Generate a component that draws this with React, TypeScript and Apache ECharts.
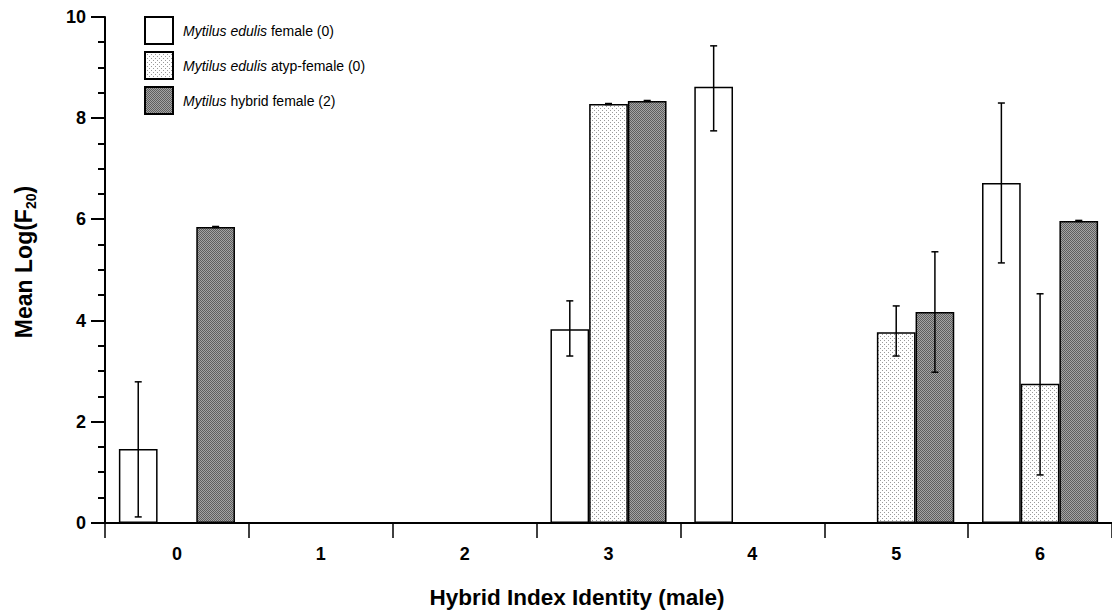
import React, { useEffect, useRef } from "react";
import * as echarts from "echarts";

const categories = ["0", "1", "2", "3", "4", "5", "6"];
const seriesNames = [
  "Mytilus edulis female (0)",
  "Mytilus edulis atyp-female (0)",
  "Mytilus hybrid female (2)",
];
const whiteValues = [1.46, null, null, 3.83, 8.62, null, 6.72];
const dottedValues = [null, null, null, 8.28, null, 3.77, 2.75];
const grayValues = [5.85, null, null, 8.34, null, 4.17, 5.97];
// [categoryIndex, low, high]
const whiteErrors = [
  [0, 0.12, 2.79],
  [3, 3.3, 4.39],
  [4, 7.75, 9.43],
  [6, 5.14, 8.3],
];
const dottedErrors = [
  [3, 8.27, 8.29],
  [5, 3.3, 4.29],
  [6, 0.95, 4.53],
];
const grayErrors = [
  [0, 5.84, 5.86],
  [3, 8.33, 8.35],
  [5, 2.98, 5.36],
  [6, 5.96, 5.98],
];
const yTicks = { min: 0, max: 10, interval: 2, minorStep: 0.5 };

function makePattern(kind: string) {
  const c = document.createElement("canvas");
  c.width = 4;
  c.height = 4;
  const ctx = c.getContext("2d")!;
  if (kind === "dot") {
    ctx.fillStyle = "#ffffff";
    ctx.fillRect(0, 0, 4, 4);
    ctx.fillStyle = "#9a9a9a";
    ctx.fillRect(0, 0, 1, 1);
    ctx.fillRect(2, 2, 1, 1);
  } else {
    for (let i = 0; i < 4; i++) {
      for (let j = 0; j < 4; j++) {
        ctx.fillStyle = (i + j) % 2 === 0 ? "#5e5e5e" : "#a4a4a4";
        ctx.fillRect(i, j, 1, 1);
      }
    }
  }
  return { image: c.toDataURL(), repeat: "repeat", imageWidth: 4, imageHeight: 4 } as any;
}

const CAT_GAP = 0.193;
const GRID_LEFT = 105;

function errorSeries(data: number[][], slot: number) {
  return {
    type: "custom",
    z: 10,
    silent: true,
    encode: { x: 0, y: [1, 2] },
    data,
    renderItem: (params: any, api: any) => {
      const band = api.size([1, 0])[0];
      const bw = (band * (1 - CAT_GAP)) / 3;
      const off = (slot - 1) * bw;
      const lo = api.coord([api.value(0), api.value(1)]);
      const hi = api.coord([api.value(0), api.value(2)]);
      const x = lo[0] + off;
      const cap = 3.5;
      const style = { stroke: "#000", lineWidth: 1.5 };
      return {
        type: "group",
        children: [
          { type: "line", shape: { x1: x, y1: lo[1], x2: x, y2: hi[1] }, style },
          { type: "line", shape: { x1: x - cap, y1: lo[1], x2: x + cap, y2: lo[1] }, style },
          { type: "line", shape: { x1: x - cap, y1: hi[1], x2: x + cap, y2: hi[1] }, style },
        ],
      };
    },
  };
}

export default function App() {
  const ref = useRef<HTMLDivElement>(null);
  useEffect(() => {
    const chart = echarts.init(ref.current!, null, { renderer: "svg" });
    const dotFill = makePattern("dot");
    const grayFill = makePattern("gray");
    const font = "'Liberation Sans', Arial, sans-serif";
    const barCommon = {
      type: "bar",
      barGap: "0%",
      barCategoryGap: (CAT_GAP * 100).toFixed(1) + "%",
    };
    const option: any = {
      animation: false,
      backgroundColor: "#ffffff",
      grid: { left: GRID_LEFT, top: 17, width: 1013, height: 506 },
      legend: {
        orient: "vertical",
        left: 144,
        top: 16,
        padding: 0,
        itemWidth: 28,
        itemHeight: 27,
        itemGap: 6,
        icon: "rect",
        data: seriesNames,
        formatter: (name: string) => {
          if (name.startsWith("Mytilus edulis")) {
            return "{i|Mytilus edulis}" + name.slice("Mytilus edulis".length);
          }
          return "{i|Mytilus}" + name.slice("Mytilus".length);
        },
        textStyle: {
          fontFamily: font,
          fontSize: 14,
          color: "#000",
          padding: [0, 0, 0, 5],
          rich: {
            i: { fontStyle: "italic", fontFamily: font, fontSize: 14, color: "#000" },
          },
        },
      },
      xAxis: {
        type: "category",
        data: categories,
        axisLine: { show: true, lineStyle: { color: "#000", width: 2 } },
        axisTick: {
          show: true,
          inside: false,
          alignWithLabel: false,
          interval: 0,
          length: 15,
          lineStyle: { color: "#000", width: 1.5, opacity: 1 },
        },
        axisLabel: {
          margin: 22,
          fontFamily: font,
          fontSize: 18,
          fontWeight: "bold",
          color: "#000",
        },
        splitLine: { show: false },
      },
      yAxis: {
        type: "value",
        min: yTicks.min,
        max: yTicks.max,
        interval: yTicks.interval,
        axisLine: { show: true, onZero: false, lineStyle: { color: "#000", width: 2 } },
        axisTick: { show: false },
        minorTick: { show: false },
        axisLabel: {
          margin: 19,
          fontFamily: font,
          fontSize: 18,
          fontWeight: "bold",
          color: "#000",
        },
        splitLine: { show: false },
      },
      series: [
        {
          ...barCommon,
          name: seriesNames[0],
          data: whiteValues,
          itemStyle: { color: "#ffffff", borderColor: "#000", borderWidth: 1.5 },
        },
        {
          ...barCommon,
          name: seriesNames[1],
          data: dottedValues,
          itemStyle: { color: dotFill, borderColor: "#000", borderWidth: 1.5 },
        },
        {
          ...barCommon,
          name: seriesNames[2],
          data: grayValues,
          itemStyle: { color: grayFill, borderColor: "#000", borderWidth: 1.5 },
        },
        errorSeries(whiteErrors, 0),
        errorSeries(dottedErrors, 1),
        errorSeries(grayErrors, 2),
      ],
    };
    chart.setOption(option);

    // y-axis ticks (major every 2, minor every 0.5), positioned through the axis scale
    const tickEls: any[] = [];
    const steps = Math.round((yTicks.max - yTicks.min) / yTicks.minorStep);
    for (let k = 0; k <= steps; k++) {
      const v = yTicks.min + k * yTicks.minorStep;
      const py = Math.round(chart.convertToPixel({ yAxisIndex: 0 }, v) as number);
      const major = Math.abs(v / yTicks.interval - Math.round(v / yTicks.interval)) < 1e-9;
      const len = major ? 14 : 7;
      tickEls.push({
        type: "rect",
        z: 5,
        shape: { x: GRID_LEFT - len, y: py - 1, width: len, height: 2 },
        style: { fill: "#000" },
      });
    }
    const y0 = chart.convertToPixel({ yAxisIndex: 0 }, yTicks.min) as number;

    chart.setOption({
      graphic: [
        ...tickEls,
        {
          type: "line",
          shape: { x1: 91, y1: y0, x2: GRID_LEFT, y2: y0 },
          style: { stroke: "#000", lineWidth: 2 },
        },
        {
          type: "text",
          x: 577,
          y: 597,
          style: {
            text: "Hybrid Index Identity (male)",
            fontFamily: font,
            fontSize: 22.5,
            fontWeight: "bold",
            fill: "#000",
            align: "center",
            verticalAlign: "middle",
          },
        },
        {
          type: "text",
          x: 24,
          y: 262,
          rotation: Math.PI / 2,
          style: {
            text: "Mean Log(F{s|20})",
            fontFamily: font,
            fontSize: 23,
            lineHeight: 28,
            fontWeight: "bold",
            fill: "#000",
            align: "center",
            verticalAlign: "middle",
            rich: {
              s: {
                fontFamily: font,
                fontSize: 14,
                lineHeight: 14,
                fontWeight: "bold",
                fill: "#000",
                verticalAlign: "bottom",
              },
            },
          },
        },
      ],
    });
    return () => chart.dispose();
  }, []);
  return (
    <div
      ref={ref}
      style={{ position: "fixed", left: 0, top: 0, width: 1112, height: 616, background: "#fff" }}
    />
  );
}
